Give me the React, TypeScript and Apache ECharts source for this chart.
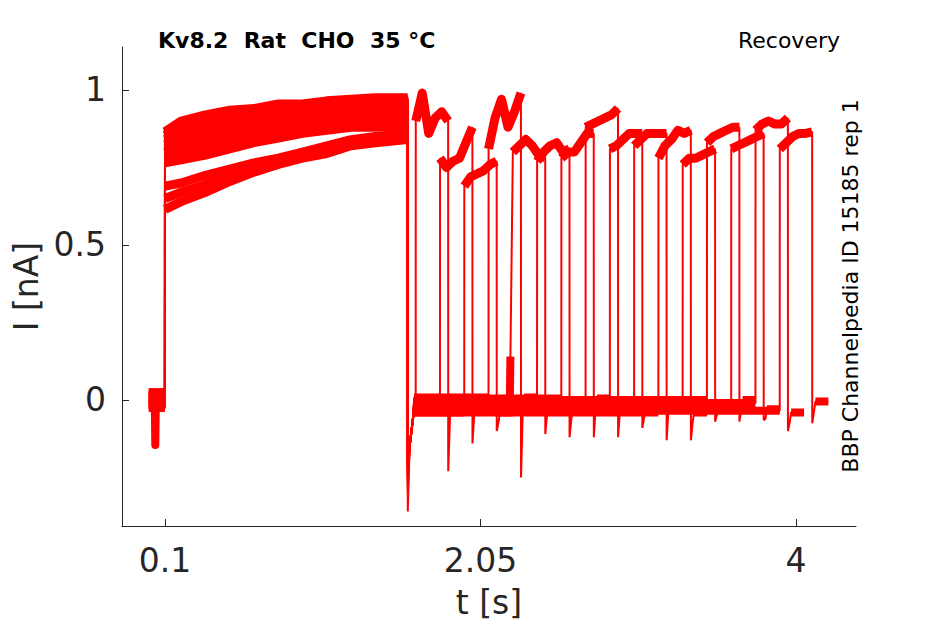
import React, { useEffect, useRef } from "react";
import * as echarts from "echarts";

// ---- axis ticks ----
const xTickValues = [0.1, 2.05, 4];
const yTickValues = [0, 0.5, 1];

// ---- protocol times (s) ----
const sweepStartTime = 0;
const stepOnTime = 0.1;
const prepulseOffTime = 1.6;
const recoveryOn = [1.65, 1.8, 1.95, 2.1, 2.25, 2.4, 2.55, 2.7, 2.85, 3.0, 3.15, 3.3, 3.45, 3.6, 3.75, 3.9];
const recoveryOff = [1.85, 2.0, 2.15, 2.3, 2.45, 2.6, 2.75, 2.9, 3.05, 3.2, 3.35, 3.5, 3.65, 3.8, 3.95, 4.1];
const sweepEnd = [1.95, 2.1, 2.25, 2.4, 2.55, 2.7, 2.85, 3.0, 3.15, 3.3, 3.45, 3.6, 3.75, 3.9, 4.05, 4.2];

// ---- current levels (nA) ----
const preStepLevel = [0.015, -0.01, 0.025, -0.025, 0.0, 0.02, -0.015, 0.005, -0.005, 0.025, -0.025, 0.01, -0.01, 0.0, 0.02, -0.02];
const preStepDip = [null, null, null, null, null, -0.145, null, null, null, null, null, null, null, null, null, null];
const preStepDipTime = 0.04;

const prepulseTimes = [0.1, 0.2, 0.35, 0.5, 0.65, 0.8, 0.95, 1.1, 1.25, 1.4, 1.6];
const prepulseLevels = [
  [0.865, 0.9, 0.92, 0.935, 0.94, 0.955, 0.955, 0.965, 0.97, 0.975, 0.975],
  [0.855, 0.885, 0.905, 0.915, 0.93, 0.94, 0.95, 0.955, 0.965, 0.97, 0.97],
  [0.85, 0.875, 0.895, 0.91, 0.92, 0.93, 0.94, 0.95, 0.96, 0.965, 0.965],
  [0.84, 0.865, 0.885, 0.9, 0.91, 0.925, 0.935, 0.945, 0.955, 0.96, 0.96],
  [0.835, 0.855, 0.875, 0.895, 0.905, 0.915, 0.93, 0.94, 0.95, 0.95, 0.955],
  [0.825, 0.845, 0.865, 0.88, 0.895, 0.91, 0.92, 0.93, 0.94, 0.945, 0.95],
  [0.82, 0.84, 0.86, 0.875, 0.89, 0.9, 0.915, 0.925, 0.935, 0.94, 0.94],
  [0.81, 0.83, 0.85, 0.865, 0.88, 0.89, 0.905, 0.915, 0.925, 0.93, 0.935],
  [0.8, 0.82, 0.84, 0.855, 0.87, 0.88, 0.895, 0.905, 0.915, 0.92, 0.925],
  [0.795, 0.815, 0.83, 0.845, 0.86, 0.87, 0.885, 0.895, 0.905, 0.91, 0.915],
  [0.785, 0.8, 0.815, 0.835, 0.85, 0.86, 0.875, 0.885, 0.895, 0.9, 0.905],
  [0.775, 0.79, 0.8, 0.82, 0.84, 0.85, 0.865, 0.875, 0.885, 0.89, 0.895],
  [0.765, 0.775, 0.79, 0.81, 0.83, 0.845, 0.86, 0.87, 0.88, 0.88, 0.885],
  [0.69, 0.7, 0.725, 0.745, 0.765, 0.78, 0.8, 0.82, 0.84, 0.85, 0.86],
  [0.65, 0.67, 0.695, 0.725, 0.75, 0.77, 0.79, 0.81, 0.83, 0.84, 0.85],
  [0.615, 0.64, 0.67, 0.705, 0.735, 0.76, 0.78, 0.795, 0.82, 0.83, 0.84],
];

const prepulseOffDip = [-0.36, -0.3, -0.25, -0.22, -0.2, -0.28, -0.24, -0.2, -0.18, -0.22, -0.26, -0.2, -0.19, -0.21, -0.23, -0.2];
const offTransientTimes = [0.0005, 0.012, 0.035];
const offTransientLevels = [-0.15, -0.05];
const baselineLevel = [-0.02, -0.01, -0.04, 0.008, -0.015, -0.03, 0.005, -0.005, -0.025, -0.0, -0.04, -0.015, 0.0, -0.03, -0.01, -0.035];
const baselineSpikeTime = 2.235;
const baselineSpike = [null, null, null, null, 0.14, null, null, null, null, null, null, null, null, null, null, null];

const recoveryRelTimes = [0, 0.04, 0.08, 0.12, 0.16, 0.2];
const recoveryLevels = [
  [0.9, 0.99, 0.86, 0.91, 0.93, 0.9],
  [0.78, 0.75, 0.77, 0.78, 0.83, 0.88],
  [0.69, 0.72, 0.73, 0.74, 0.76, 0.77],
  [0.81, 0.91, 0.97, 0.88, 0.93, 0.99],
  [0.8, 0.82, 0.84, 0.82, 0.79, 0.78],
  [0.77, 0.8, 0.82, 0.83, 0.8, 0.81],
  [0.78, 0.8, 0.8, 0.83, 0.86, 0.86],
  [0.88, 0.89, 0.9, 0.91, 0.92, 0.94],
  [0.81, 0.82, 0.84, 0.86, 0.86, 0.86],
  [0.82, 0.84, 0.86, 0.86, 0.86, 0.86],
  [0.78, 0.82, 0.84, 0.87, 0.86, 0.87],
  [0.76, 0.78, 0.78, 0.79, 0.8, 0.81],
  [0.83, 0.85, 0.86, 0.87, 0.88, 0.88],
  [0.81, 0.82, 0.83, 0.84, 0.85, 0.86],
  [0.87, 0.89, 0.9, 0.89, 0.89, 0.91],
  [0.81, 0.83, 0.85, 0.86, 0.86, 0.865],
];
const testOffDip = [-0.23, -0.14, -0.1, -0.25, -0.11, -0.12, -0.12, -0.12, -0.09, -0.13, -0.13, -0.07, -0.07, -0.065, -0.1, -0.075];
const tailTransientTimes = [0.0005, 0.012, 0.02];
const tailLevel = [-0.02, -0.01, -0.04, 0.008, -0.015, -0.03, 0.005, -0.005, -0.025, 0.0, -0.04, -0.015, 0.0, -0.03, -0.04, -0.005];

const GAP: [number, number] = [NaN, NaN];

function buildSweep(i: number) {
  const full: any[] = [];
  const plateau: any[] = [];
  const base: any[] = [];
  // pre-step
  const pre: number[][] = [[sweepStartTime, preStepLevel[i]]];
  if (preStepDip[i] !== null) {
    pre.push([preStepDipTime - 0.004, preStepLevel[i]]);
    pre.push([preStepDipTime, preStepDip[i] as number]);
    pre.push([preStepDipTime + 0.004, preStepLevel[i]]);
  }
  pre.push([stepOnTime - 0.0005, preStepLevel[i]]);
  full.push(...pre);
  base.push(...pre, GAP);
  // prepulse
  const pp = prepulseTimes.map((t, k) => [t, prepulseLevels[i][k]]);
  full.push(...pp);
  plateau.push(...pp, GAP);
  // off transient
  full.push([prepulseOffTime + offTransientTimes[0], prepulseOffDip[i]]);
  full.push([prepulseOffTime + offTransientTimes[1], offTransientLevels[0]]);
  full.push([prepulseOffTime + offTransientTimes[2], offTransientLevels[1]]);
  // baseline
  const bl: number[][] = [[prepulseOffTime + offTransientTimes[2] + 0.005, baselineLevel[i]]];
  if (baselineSpike[i] !== null) {
    bl.push([baselineSpikeTime - 0.004, baselineLevel[i]]);
    bl.push([baselineSpikeTime, baselineSpike[i] as number]);
  } else {
    bl.push([recoveryOn[i] - 0.0005, baselineLevel[i]]);
  }
  full.push(...bl);
  base.push(...bl, GAP);
  // recovery test pulse
  const rec = recoveryRelTimes.map((r, k) => [recoveryOn[i] + r, recoveryLevels[i][k]]);
  full.push(...rec);
  plateau.push(...rec, GAP);
  // tail
  full.push([recoveryOff[i] + tailTransientTimes[0], testOffDip[i]]);
  full.push([recoveryOff[i] + tailTransientTimes[1], tailLevel[i] - 0.03]);
  const tail = [
    [recoveryOff[i] + tailTransientTimes[2], tailLevel[i]],
    [sweepEnd[i], tailLevel[i]],
  ];
  full.push(...tail);
  base.push(...tail, GAP);
  return { full, plateau, base };
}

const FONT = "DejaVu Sans";
const INK = "#262626";
const RED = "#ff0000";

export default function App() {
  const ref = useRef<HTMLDivElement>(null);
  useEffect(() => {
    if (!ref.current) return;
    const chart = echarts.init(ref.current, null, { renderer: "svg" });
    const series: any[] = [];
    const common = {
      type: "line",
      showSymbol: false,
      symbol: "none",
      silent: true,
      connectNulls: false,
    };
    for (let i = 0; i < recoveryOn.length; i++) {
      const { full, plateau, base } = buildSweep(i);
      series.push({ ...common, data: full, lineStyle: { color: RED, width: 2 } });
      series.push({ ...common, data: plateau, lineStyle: { color: RED, width: 9, join: "round" } });
      series.push({ ...common, data: base, lineStyle: { color: RED, width: 8, join: "round" } });
    }
    chart.setOption({
      animation: false,
      backgroundColor: "#ffffff",
      grid: { left: 122, top: 47, width: 734, height: 479 },
      xAxis: {
        type: "value",
        min: -0.1658,
        max: 4.371,
        name: "t [s]",
        nameLocation: "middle",
        nameGap: 60,
        nameTextStyle: { fontSize: 33, color: INK, fontFamily: FONT },
        axisLine: { show: true, onZero: false, lineStyle: { color: INK, width: 1 } },
        axisTick: { show: true, inside: true, length: 7, customValues: xTickValues, lineStyle: { color: INK } },
        axisLabel: {
          customValues: xTickValues,
          fontSize: 33,
          color: INK,
          fontFamily: FONT,
          margin: 18,
          formatter: (v: number) => String(v),
        },
        splitLine: { show: false },
      },
      yAxis: {
        type: "value",
        min: -0.4065,
        max: 1.1387,
        name: "I [nA]",
        nameLocation: "middle",
        nameGap: 74,
        nameTextStyle: { fontSize: 33, color: INK, fontFamily: FONT },
        axisLine: { show: true, onZero: false, lineStyle: { color: INK, width: 1 } },
        axisTick: { show: true, inside: true, length: 7, customValues: yTickValues, lineStyle: { color: INK } },
        axisLabel: {
          customValues: yTickValues,
          fontSize: 33,
          color: INK,
          fontFamily: FONT,
          margin: 16,
          formatter: (v: number) => String(v),
        },
        splitLine: { show: false },
      },
      graphic: [
        {
          type: "text",
          x: 158,
          y: 40,
          style: {
            text: "Kv8.2  Rat  CHO  35 °C",
            fontSize: 22,
            fontWeight: "bold",
            fontFamily: FONT,
            fill: "#000",
            textAlign: "left",
            align: "left",
            textVerticalAlign: "middle",
            verticalAlign: "middle",
          },
        },
        {
          type: "text",
          x: 840,
          y: 40,
          style: {
            text: "Recovery",
            fontSize: 22,
            fontFamily: FONT,
            fill: "#000",
            textAlign: "right",
            align: "right",
            textVerticalAlign: "middle",
            verticalAlign: "middle",
          },
        },
        {
          type: "text",
          x: 850,
          y: 286,
          rotation: Math.PI / 2,
          style: {
            text: "BBP Channelpedia ID 15185 rep 1",
            fontSize: 22,
            fontFamily: FONT,
            fill: "#000",
            textAlign: "center",
            align: "center",
            textVerticalAlign: "middle",
            verticalAlign: "middle",
          },
        },
      ],
      series,
    });
    return () => chart.dispose();
  }, []);
  return (
    <div
      ref={ref}
      style={{ position: "fixed", left: 0, top: 0, width: 945, height: 624, background: "#fff" }}
    />
  );
}
